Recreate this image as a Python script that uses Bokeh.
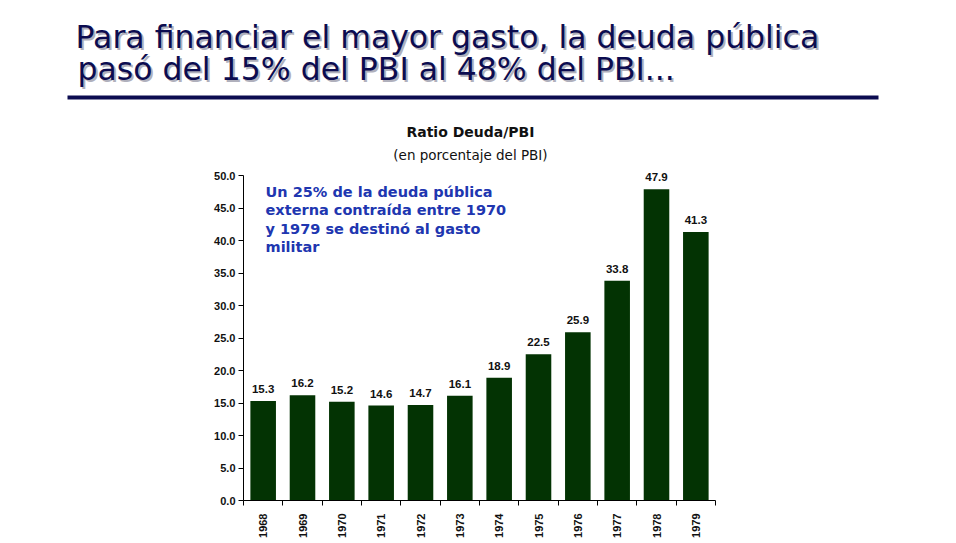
import math
from bokeh.plotting import figure
from bokeh.models import Range1d, FixedTicker, ColumnDataSource, NumeralTickFormatter
from bokeh.core.properties import value
from bokeh.embed import file_html
from bokeh.resources import INLINE

years = ["1968", "1969", "1970", "1971", "1972", "1973", "1974", "1975", "1976", "1977", "1978", "1979"]
ratio = [15.3, 16.2, 15.2, 14.6, 14.7, 16.1, 18.9, 22.5, 25.9, 33.8, 47.9, 41.3]
value_labels = ["%.1f" % v for v in ratio]
y_ticks = [0, 5, 10, 15, 20, 25, 30, 35, 40, 45, 50]

headline = ["Para financiar el mayor gasto, la deuda pública",
            "pasó del 15% del PBI al 48% del PBI..."]
chart_title = "Ratio Deuda/PBI"
chart_subtitle = "(en porcentaje del PBI)"
note = ["Un 25% de la deuda pública", "externa contraída entre 1970",
        "y 1979 se destinó al gasto", "militar"]

NAVY = "#0c0c50"
BAR = "#033303"
BLUE = "#2036b0"

# ---- top figure: headline and rule ----
top = figure(width=956, height=105, x_range=Range1d(0, 956), y_range=Range1d(105, 0),
             output_backend="svg", toolbar_location=None, min_border=0)
top.axis.visible = False
top.grid.visible = False
top.outline_line_color = None

hx = [75, 77]
hy = [36, 68]
top.text(x=[x + 2 for x in hx], y=[y + 2 for y in hy], text=headline, text_color="#b0b0bc",
         text_font=value("DejaVu Sans"), text_font_size="31.5px", text_baseline="middle")
top.text(x=hx, y=hy, text=headline, text_color=NAVY,
         text_font=value("DejaVu Sans"), text_font_size="31.5px", text_baseline="middle")
top.segment(x0=[67], y0=[97], x1=[878], y1=[97], line_color=NAVY, line_width=4)

# ---- chart ----
idx = list(range(len(years)))
src = ColumnDataSource(dict(x=idx, y=ratio, lab=value_labels))

p = figure(width=956, height=438, x_range=Range1d(-0.5, len(years) - 0.5), y_range=Range1d(0, 58),
           output_backend="svg", toolbar_location=None,
           min_border_left=243, min_border_right=241, min_border_top=18, min_border_bottom=43)
p.outline_line_color = None
p.grid.visible = False

p.vbar(x="x", top="y", width=0.65, source=src, fill_color=BAR, line_color=None)
p.text(x="x", y="y", text="lab", source=src, text_align="center", text_baseline="bottom",
       y_offset=-8, text_font=value("Liberation Sans"), text_font_style="bold",
       text_font_size="11.5px", text_color="#111111")

# chart title / subtitle (frame extends above the 50.0 tick)
p.text(x=[5.27], y=[56.75], text=[chart_title], text_align="center", text_baseline="middle",
       text_font=value("DejaVu Sans"), text_font_style="bold", text_font_size="14px", text_color="#111111")
p.text(x=[5.27], y=[53.2], text=[chart_subtitle], text_align="center", text_baseline="middle",
       text_font=value("DejaVu Sans"), text_font_size="13.5px", text_color="#111111")

# annotation
note_y = [47.45 - i * 2.82 for i in range(len(note))]
p.text(x=[0.06] * len(note), y=note_y, text=note, text_color=BLUE, text_align="left",
       text_baseline="middle", text_font=value("DejaVu Sans"), text_font_style="bold",
       text_font_size="14.5px")

p.xaxis.ticker = FixedTicker(ticks=idx, minor_ticks=[i - 0.5 for i in range(len(years) + 1)])
p.xaxis.major_label_overrides = {i: y for i, y in enumerate(years)}
p.xaxis.major_label_orientation = math.pi / 2
p.xaxis.major_tick_line_color = None
p.xaxis.major_tick_out = 0
p.xaxis.major_tick_in = 0
p.xaxis.minor_tick_out = 5
p.xaxis.minor_tick_in = 0
p.xaxis.minor_tick_line_color = "black"
p.xaxis.major_label_standoff = 8

p.yaxis.ticker = FixedTicker(ticks=y_ticks, minor_ticks=[])
p.yaxis.bounds = (0, 50)
p.yaxis.formatter = NumeralTickFormatter(format="0.0")
p.yaxis.major_tick_out = 5
p.yaxis.major_tick_in = 0
p.yaxis.major_label_standoff = 3

for ax in (p.xaxis, p.yaxis):
    ax.axis_line_color = "black"
    ax.axis_line_width = 1
    ax.major_label_text_font = "Liberation Sans"
    ax.major_label_text_font_style = "bold"
    ax.major_label_text_font_size = "11px"
    ax.major_label_text_color = "#111111"

open("out.html", "w").write(file_html([top, p], INLINE))
